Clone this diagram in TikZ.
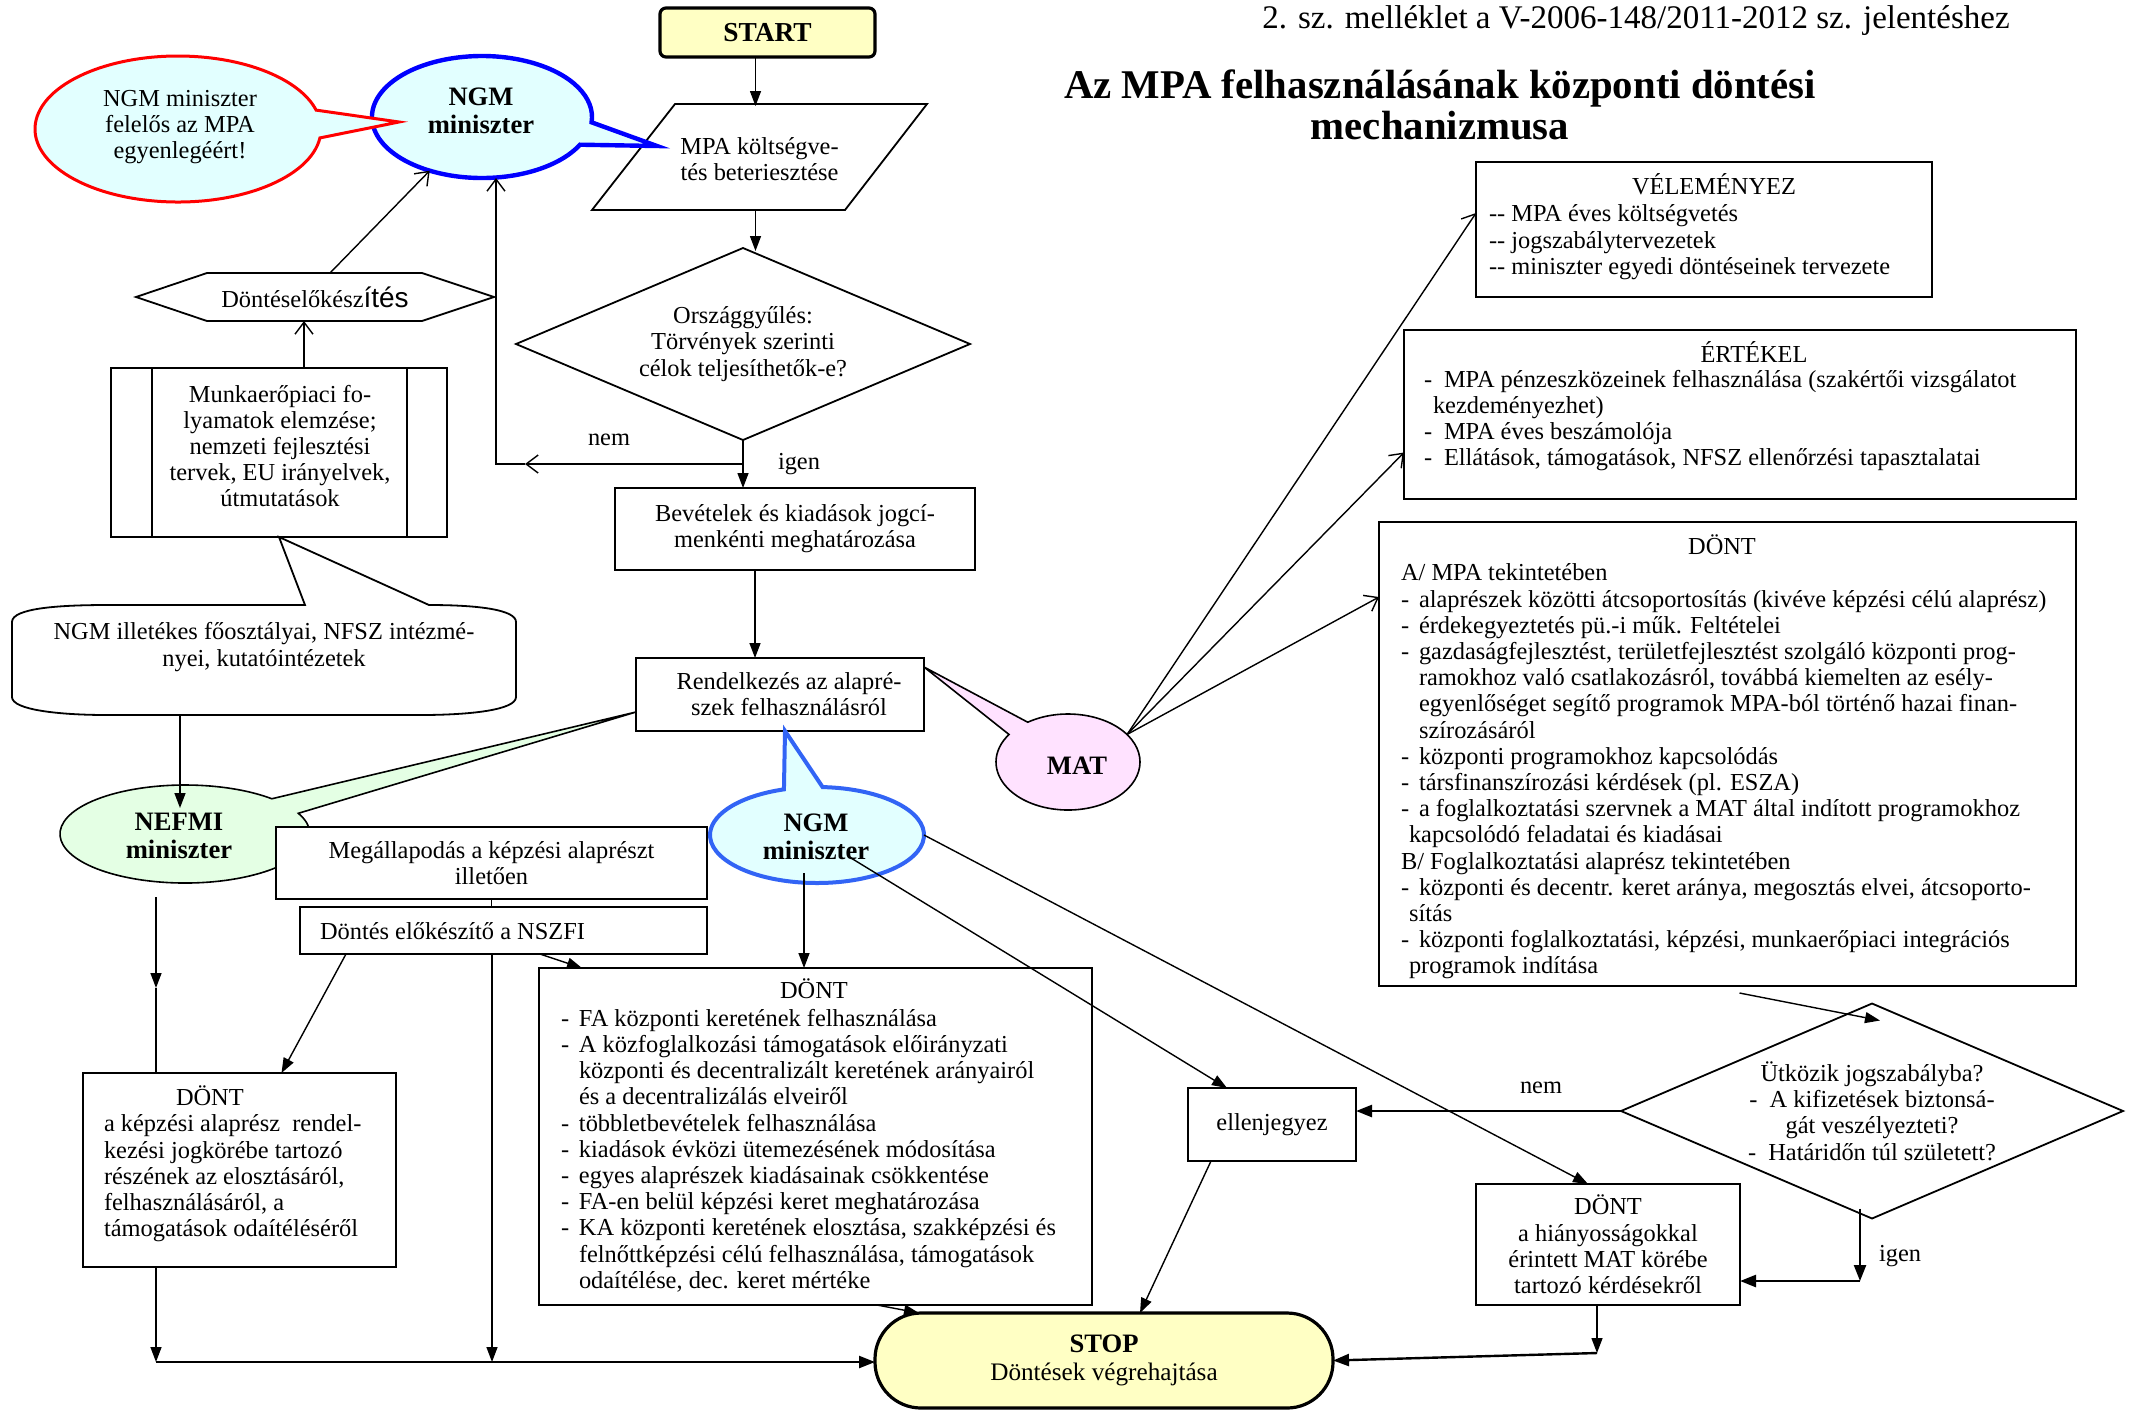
\documentclass[tikz,border=0pt]{standalone}
\usepackage{fontspec}
\setmainfont{Liberation Serif}
\newfontfamily\sansfam{Liberation Sans}
\usetikzlibrary{arrows.meta,shapes.geometric,calc}
\definecolor{cyanfill}{RGB}{226,255,255}
\definecolor{greenfill}{RGB}{228,255,228}
\definecolor{pinkfill}{RGB}{255,226,255}
\definecolor{yelfill}{RGB}{255,255,196}
\definecolor{blueA}{RGB}{0,0,255}
\definecolor{blueB}{RGB}{50,100,245}
\newcommand\dashA{\makebox[9pt][l]{-}}
\newcommand\dashB{\makebox[10pt][l]{-}}
\tikzset{
  every node/.style={inner sep=0pt, outer sep=0pt},
  bodytxt/.style={font=\fontsize{12.2}{13.1}\selectfont},
  lbl/.style={font=\bfseries\fontsize{13.3}{14}\selectfont, align=center},
  boxs/.style={draw, line width=0.9pt, fill=white},
  outl/.style={line width=0.9pt},
  arr/.style={line width=0.7pt, -{Triangle[length=7.5pt,width=5.5pt]}},
  thickarr/.style={line width=1.2pt, -{Triangle[length=8pt,width=6pt]}},
  oarr/.style={line width=0.7pt, -{Straight Barb[length=6pt,width=9pt]}},
  conn/.style={line width=0.7pt},
}
\begin{document}
\begin{tikzpicture}[x=0.5pt,y=-0.5pt]
\fill[white] (0,0) rectangle (2131,1410);
\useasboundingbox (0,0) rectangle (2131,1410);

% header and title
\node[font=\fontsize{16.5}{18}\selectfont] (hdr) at (1636,21) {2. sz. melléklet a V-2006-148/2011-2012 sz. jelentéshez};
\node[font=\bfseries\fontsize{20.4}{19.5}\selectfont] (title1) at (1440,88) {Az MPA felhasználásának központi döntési};
\node[font=\bfseries\fontsize{20.4}{19.5}\selectfont] (title2) at (1440,126) {mechanizmusa};

% main column
\node[draw, line width=1.6pt, rounded corners=3pt, fill=yelfill, minimum width=107.5pt, minimum height=24.5pt, font=\bfseries\fontsize{13.7}{15}\selectfont] (start) at (767.5,32.5) {START};
\node[bodytxt, align=center, minimum width=167.5pt, minimum height=53pt] (par) at (759.5,159) {MPA költségve-\\tés beteriesztése};
\draw[outl] ([xshift=41.5pt,yshift=1pt]par.north west) -- ([yshift=1pt]par.north east) -- ([xshift=-41pt,yshift=1pt]par.south east) -- ([yshift=1pt]par.south west) -- cycle;
\node[bodytxt, align=center, minimum width=227pt, minimum height=96pt] (orsz) at (743,344) {Országgyűlés:\\Törvények szerinti\\célok teljesíthetők-e?};
\draw[outl] (orsz.north) -- (orsz.east) -- (orsz.south) -- (orsz.west) -- cycle;
\node[boxs, bodytxt, align=center, minimum width=180pt, minimum height=41pt] (bev) at (795,529) {Bevételek és kiadások jogcí-\\menkénti meghatározása};
\node[boxs, bodytxt, align=center, minimum width=144pt, minimum height=36.5pt] (rend) at (780,694.5) {\hspace*{9pt}Rendelkezés az alapré-\\\hspace*{9pt}szek felhasználásról};

% left column
\node[boxs, minimum width=168pt, minimum height=84.5pt] (mun) at (279,452.5) {};
\draw[outl] ([xshift=20.5pt]mun.north west) -- ([xshift=20.5pt]mun.south west) ([xshift=-20pt]mun.north east) -- ([xshift=-20pt]mun.south east);
\node[bodytxt, align=center] (muntxt) at (280,446) {Munkaerőpiaci fo-\\lyamatok elemzése;\\nemzeti fejlesztési\\tervek, EU irányelvek,\\útmutatások};
\node[bodytxt, minimum width=179pt, minimum height=24pt] (hex) at (315,297) {Döntéselőkész{\sansfam\fontsize{14}{14}\selectfont ítés}};
\draw[outl] (hex.west) -- ([xshift=35.5pt]hex.north west) -- ([xshift=-36pt]hex.north east) -- (hex.east) -- ([xshift=-36pt]hex.south east) -- ([xshift=35.5pt]hex.south west) -- cycle;
\draw[outl, fill=white] (12,622) .. controls (12,608) and (60,605) .. (107,605) -- (305,605) -- (mun.south) -- (429,605) .. controls (480,605) and (516,610) .. (516,622) -- (516,697) .. controls (516,710) and (470,715) .. (420,715) -- (107,715) .. controls (60,715) and (12,710) .. (12,697) -- cycle;
\node[minimum width=252pt, minimum height=54.5pt] (ngmill) at (264,659.5) {};
\node[bodytxt, align=center] (ngmilltxt) at (264,647) {NGM illetékes főosztályai, NFSZ intézmé-\\nyei, kutatóintézetek};

% bubbles
\draw[blueA, line width=2.2pt, fill=cyanfill] ($(482,117)+(27:110 and 61)$) arc[start angle=27, end angle=365, x radius=110, y radius=61] -- (657,146) -- cycle;
\node[ellipse, minimum width=110pt, minimum height=61pt] (ngmA) at (482,117) {};
\node[lbl] (ngmAtxt) at (481,111) {NGM\\miniszter};
\draw[red, line width=1.5pt, fill=cyanfill] ($(178,129)+(7:143 and 73)$) arc[start angle=7, end angle=345, x radius=143, y radius=73] -- (399,122) -- cycle;
\node[bodytxt, align=center] (redb) at (180,127) {NGM miniszter\\felelős az MPA\\egyenlegéért!};

\draw[black, line width=0.8pt, fill=greenfill] ($(185,834)+(-25:125 and 49)$) arc[start angle=-25, end angle=314, x radius=125, y radius=49] -- ([yshift=-8.75pt]rend.west) -- cycle;
\node[ellipse, minimum width=125pt, minimum height=49pt] (nefmi) at (185,834) {};
\node[lbl] (nefmitxt) at (179,836) {NEFMI\\miniszter};

\draw[blueB, line width=2pt, fill=cyanfill] ($(817,835)+(273:107 and 48)$) arc[start angle=273, end angle=612, x radius=107, y radius=48] -- ([xshift=2.5pt]rend.south) -- cycle;
\node[ellipse, minimum width=107pt, minimum height=48pt] (ngmB) at (817,835) {};
\node[lbl] (ngmBtxt) at (816,837) {NGM\\miniszter};

\draw[black, line width=0.8pt, fill=pinkfill] ($(1068,762)+(236:72 and 48)$) arc[start angle=236, end angle=575, x radius=72, y radius=48] -- ([yshift=-4.5pt]rend.north east) -- cycle;
\node[ellipse, minimum width=72pt, minimum height=48pt] (mat) at (1068,762) {};
\node[lbl] (mattxt) at (1077,766) {MAT};

% lower boxes
\node[boxs, bodytxt, align=center, minimum width=215.5pt, minimum height=36pt] (meg) at (491.5,863) {Megállapodás a képzési alaprészt\\illetően};
\node[boxs, minimum width=203.5pt, minimum height=23.5pt] (nszfi) at (503.5,930.5) {};
\node[bodytxt, anchor=west] (nszfitxt) at (320,931) {Döntés előkészítő a NSZFI};

\node[boxs, minimum width=156.5pt, minimum height=97pt] (dontL) at (239.5,1170) {};
\node[bodytxt, align=left, anchor=north west] (dontLtxt) at (104,1086) {\hspace*{36pt}DÖNT\\a képzési alaprész\ \ rendel-\\kezési jogkörébe tartozó\\részének az elosztásáról,\\felhasználásáról, a\\támogatások odaítéléséről};

\node[boxs, minimum width=276.5pt, minimum height=168.5pt] (dontM) at (815.5,1136.5) {};
\node[bodytxt] (dontMt) at (814,989) {DÖNT};
\node[bodytxt, align=left, anchor=north west] (dontMtxt) at (561,1009) {\dashA FA központi keretének felhasználása\\\dashA A közfoglalkozási támogatások előirányzati\\\hspace*{9pt}központi és decentralizált keretének arányairól\\\hspace*{9pt}és a decentralizálás elveiről\\\dashA többletbevételek felhasználása\\\dashA kiadások évközi ütemezésének módosítása\\\dashA egyes alaprészek kiadásainak csökkentése\\\dashA FA-en belül képzési keret meghatározása\\\dashA KA központi keretének elosztása, szakképzési és\\\hspace*{9pt}felnőttképzési célú felhasználása, támogatások\\\hspace*{9pt}odaítélése, dec. keret mértéke};

\node[boxs, bodytxt, minimum width=84pt, minimum height=36.5pt] (ellen) at (1272,1124.5) {ellenjegyez};
\node[boxs, bodytxt, align=center, minimum width=132pt, minimum height=60.5pt] (dontS) at (1608,1244.5) {DÖNT\\a hiányosságokkal\\érintett MAT körébe\\tartozó kérdésekről};

% right boxes
\node[boxs, minimum width=228pt, minimum height=67.5pt] (vel) at (1704,229.5) {};
\node[bodytxt] (velt) at (1714,184) {VÉLEMÉNYEZ};
\node[bodytxt, align=left, anchor=north west] (veltxt) at (1489,205) {-{}- MPA éves költségvetés\\-{}- jogszabálytervezetek\\-{}- miniszter egyedi döntéseinek tervezete};

\node[boxs, minimum width=336pt, minimum height=84.5pt] (ert) at (1740,414.5) {};
\node[bodytxt] (ertt) at (1754,352) {ÉRTÉKEL};
\node[bodytxt, align=left, anchor=north west] (erttxt) at (1424,370) {\dashB MPA pénzeszközeinek felhasználása (szakértői vizsgálatot\\\hspace*{4.5pt}kezdeményezhet)\\\dashB MPA éves beszámolója\\\dashB Ellátások, támogatások, NFSZ ellenőrzési tapasztalatai};

\node[boxs, minimum width=348.5pt, minimum height=232pt] (dontR) at (1727.5,754) {};
\node[bodytxt] (dontRt) at (1722,545) {DÖNT};
\node[bodytxt, align=left, anchor=north west] (dontRtxt) at (1401,564) {A/ MPA tekintetében\\\dashA alaprészek közötti átcsoportosítás (kivéve képzési célú alaprész)\\\dashA érdekegyeztetés pü.-i műk. Feltételei\\\dashA gazdaságfejlesztést, területfejlesztést szolgáló központi prog-\\\hspace*{9pt}ramokhoz való csatlakozásról, továbbá kiemelten az esély-\\\hspace*{9pt}egyenlőséget segítő programok MPA-ból történő hazai finan-\\\hspace*{9pt}szírozásáról\\\dashA központi programokhoz kapcsolódás\\\dashA társfinanszírozási kérdések (pl. ESZA)\\\dashA a foglalkoztatási szervnek a MAT által indított programokhoz\\\hspace*{4pt}kapcsolódó feladatai és kiadásai\\B/ Foglalkoztatási alaprész tekintetében\\\dashA központi és decentr. keret aránya, megosztás elvei, átcsoporto-\\\hspace*{4pt}sítás\\\dashA központi foglalkoztatási, képzési, munkaerőpiaci integrációs\\\hspace*{4pt}programok indítása};

\node[bodytxt, align=center, minimum width=251pt, minimum height=107.5pt] (utk) at (1872,1111) {Ütközik jogszabályba?\\-\ \ A kifizetések biztonsá-\\gát veszélyezteti?\\-\ \ Határidőn túl született?};
\draw[outl] (utk.north) -- (utk.east) -- (utk.south) -- (utk.west) -- cycle;

\node[draw, line width=1.6pt, fill=yelfill, rounded corners=23pt, minimum width=229pt, minimum height=47.5pt, align=center, font=\fontsize{12.6}{13.8}\selectfont] (stop) at (1104,1360.5) {{\bfseries\fontsize{13.3}{13.8}\selectfont STOP}\\Döntések végrehajtása};

% connectors
\coordinate (s1) at ([xshift=-6pt]start.south);
\draw[arr] (s1) -- (s1 |- par.north);
\coordinate (s2) at ([xshift=-2pt,yshift=1pt]par.south);
\draw[arr] (s2) -- ++(0,41);
\draw[arr] (orsz.south) -- (orsz.south |- bev.north);
\coordinate (nemA) at ($(orsz.south)+(0,24)$);
\coordinate (nemM) at (525,464);
\coordinate (nemB) at (496,464);
\draw[oarr] (nemA) -- (nemM);
\draw[oarr] (nemM) -- (nemB) -- (nemB |- ngmA.south);
\coordinate (s3) at ([xshift=-20pt]bev.south);
\draw[arr] (s3) -- (s3 |- rend.north);
\coordinate (s4) at ([xshift=12.5pt]mun.north);
\draw[oarr] (s4) -- (s4 |- hex.south);
\draw[oarr] ([xshift=7.5pt]hex.north) -- (ngmA);
\draw[arr] ([xshift=-42pt]ngmill.south) -- ($(nefmi.center)+(-5,-26)$);

\coordinate (vA) at (156,988);
\coordinate (vB) at (156,1362);
\draw[arr] ([xshift=-14.5pt,yshift=-7pt]nefmi.south) -- (vA);
\draw[conn] (vA) -- (vA |- dontL.north);
\draw[arr] (vA |- dontL.south) -- (vB);
\draw[thickarr] (vB) -- (vB -| stop.west);

\draw[conn] (meg.south) -- (meg.south |- nszfi.north);
\coordinate (vC) at (492,1362);
\draw[arr] (vC |- nszfi.south) -- (vC);
\draw[arr] ([xshift=23pt]nszfi.south west) -- ([xshift=21pt]dontL.north);
\draw[arr] ([xshift=120pt]nszfi.south west) -- ([xshift=21.5pt]dontM.north west);

\coordinate (s5) at ($(ngmB.south)+(-13,-10)$);
\draw[arr] (s5) -- (s5 |- dontM.north);
\draw[arr] ($(ngmB.center)+(34,23)$) -- ([xshift=19.5pt]ellen.north west);
\draw[arr] (ngmB.east) -- ([xshift=-10pt]dontS.north);

\draw[oarr] (mat.25) -- ([yshift=8.25pt]vel.west);
\draw[oarr] (mat.25) -- ([yshift=-19pt]ert.west);
\draw[oarr] (mat.25) -- ([yshift=78.5pt]dontR.west);

\draw[arr] ([xshift=6pt,yshift=-3.5pt]dontR.south) -- ($(utk.north)+(8,17)$);
\draw[thickarr] (utk.west) -- (utk.west -| ellen.east);
\coordinate (ig) at (1860,1281);
\draw[thickarr] ($(utk.south)+(-12,-10)$) -- (ig);
\draw[thickarr] (ig) -- (ig -| dontS.east);
\coordinate (ds) at (1597,1353);
\draw[arr] ([xshift=-5.5pt]dontS.south) -- (ds);
\draw[thickarr] (ds) -- (stop.east);
\draw[arr] ([xshift=11.5pt]ellen.south west) -- ([xshift=18pt]stop.north);
\draw[arr] ([xshift=-107.5pt]dontM.south east) -- ([xshift=22pt]stop.north west);

% labels
\node[bodytxt] (lnem1) at (609,440) {nem};
\node[bodytxt] (ligen1) at (799,464) {igen};
\node[bodytxt] (lnem2) at (1541,1088) {nem};
\node[bodytxt] (ligen2) at (1900,1256) {igen};
\end{tikzpicture}
\end{document}
